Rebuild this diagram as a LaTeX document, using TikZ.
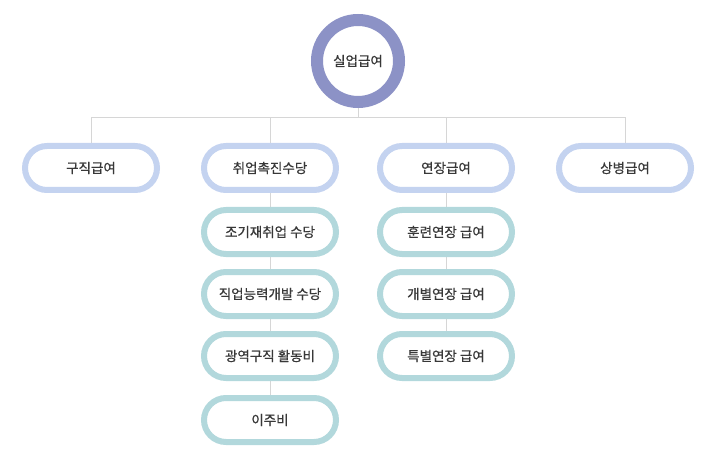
\documentclass[tikz,border=0pt]{standalone}
\usepackage{fontspec}
\newfontfamily\krfont[FakeBold=0.7]{Noto Sans CJK KR}
\usepackage{tikz}
\usetikzlibrary{backgrounds}
\definecolor{ringcol}{HTML}{8C92C6}
\definecolor{topcol}{HTML}{C4D3F0}
\definecolor{subcol}{HTML}{B2D8DC}
\definecolor{linecol}{HTML}{D6D6D6}
\definecolor{txtcol}{HTML}{383838}

\begin{document}
\begin{tikzpicture}[x=1pt,y=1pt,
    box/.style={draw,line width=6pt,fill=white,rounded corners=22pt,minimum width=132pt,minimum height=44pt,inner sep=0pt,text=txtcol,font=\krfont\fontsize{13.5}{15}\selectfont},
    topbox/.style={box,draw=topcol},
    subbox/.style={box,draw=subcol},
    link/.style={draw=linecol,line width=0.9pt}]
    \useasboundingbox (0,0) rectangle (711,-470);

    \node[circle,draw=ringcol,line width=12pt,fill=white,minimum size=82pt,inner sep=0pt,text=txtcol,font=\krfont\fontsize{13.5}{15}\selectfont] at (358,-61) (top) {실업급여};

    \node[topbox] at (91,-168) (gujik) {구직급여};
    \node[topbox] at (270,-168) (chwieop) {취업촉진수당};
    \node[topbox] at (446,-168) (yeonjang) {연장급여};
    \node[topbox] at (625,-168) (sangbyeong) {상병급여};

    \node[subbox] at (270,-232) (jogi) {조기재취업 수당};
    \node[subbox] at (270,-294) (jigeop) {직업능력개발 수당};
    \node[subbox] at (270,-356) (gwangyeok) {광역구직 활동비};
    \node[subbox] at (270,-420) (iju) {이주비};

    \node[subbox] at (446,-232) (hullyeon) {훈련연장 급여};
    \node[subbox] at (446,-294) (gaebyeol) {개별연장 급여};
    \node[subbox] at (446,-356) (teukbyeol) {특별연장 급여};

    \coordinate (bus) at (358,-117);
    \begin{scope}[on background layer]
    \draw[link]
      (top) -- (bus)
      (gujik) |- (bus)
      (chwieop) |- (bus)
      (yeonjang) |- (bus)
      (sangbyeong) |- (bus);
    \draw[link]
      (chwieop) -- (jogi)
      (jogi) -- (jigeop)
      (jigeop) -- (gwangyeok)
      (gwangyeok) -- (iju)
      (yeonjang) -- (hullyeon)
      (hullyeon) -- (gaebyeol)
      (gaebyeol) -- (teukbyeol);
    \end{scope}
  \end{tikzpicture}
\end{document}
